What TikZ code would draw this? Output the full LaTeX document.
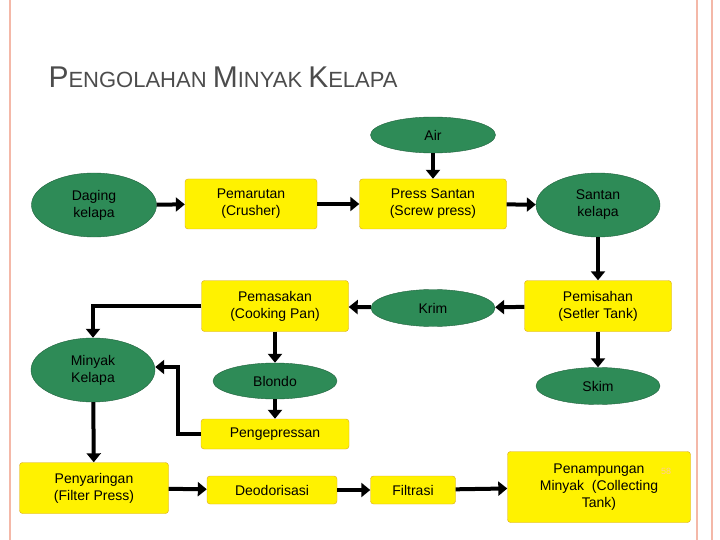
\documentclass[tikz,border=0pt]{standalone}
\usepackage{fontspec}
\setmainfont{Liberation Sans}
\usetikzlibrary{arrows.meta,shapes.geometric}
\definecolor{leaf}{HTML}{2E8B57}
\definecolor{sun}{HTML}{FFF200}
\definecolor{rim}{HTML}{D9A521}
\definecolor{rose}{HTML}{F4B8A8}
\begin{document}
\begin{tikzpicture}[x=1pt,y=-1pt,
  proc/.style={draw=rim,fill=sun,rounded corners=3pt,align=center,font=\fontsize{14}{17}\selectfont,inner sep=2pt},
  prod/.style={draw=leaf!70!black,fill=leaf,ellipse,align=center,font=\fontsize{14}{17}\selectfont,inner sep=1pt},
  arr/.style={-{Triangle[length=9pt,width=14pt]},line width=4pt}
]
\useasboundingbox (0,0) rectangle (720,540);
\draw[rose,line width=1.5pt] (10,0) -- (10,540);
\draw[rose,line width=1.5pt] (697,0) -- (697,540);
\draw[rose,line width=1.5pt] (712,0) -- (712,540);
\node[anchor=base west,text=black!70,font=\fontsize{30}{34}\selectfont] (title) at (45,88)
  {P\fontsize{22}{26}\selectfont ENGOLAHAN \fontsize{30}{34}\selectfont M\fontsize{22}{26}\selectfont INYAK \fontsize{30}{34}\selectfont K\fontsize{22}{26}\selectfont ELAPA};
% nodes
\node[prod,minimum width=125pt,minimum height=36pt] (air) at (433,135) {Air};
\node[prod,minimum width=125pt,minimum height=64pt] (daging) at (94,205) {Daging\\kelapa};
\node[proc,minimum width=132pt,minimum height=50pt] (pemarutan) at (251,204) {Pemarutan\\(Crusher)};
\node[proc,minimum width=147pt,minimum height=50pt] (press) at (433,204) {Press Santan\\(Screw press)};
\node[prod,minimum width=124pt,minimum height=64pt] (santan) at (598,205) {Santan\\kelapa};
\node[proc,minimum width=147pt,minimum height=51pt] (pemasakan) at (275,306) {Pemasakan\\(Cooking Pan)};
\node[prod,minimum width=124pt,minimum height=37pt] (krim) at (433,308) {Krim};
\node[proc,minimum width=147pt,minimum height=51pt] (pemisahan) at (598,306) {Pemisahan\\(Setler Tank)};
\node[prod,minimum width=124pt,minimum height=64pt] (minyak) at (93,370) {Minyak\\Kelapa};
\node[prod,minimum width=124pt,minimum height=36pt] (blondo) at (275,381) {Blondo};
\node[prod,minimum width=124pt,minimum height=37pt] (skim) at (598,386) {Skim};
\node[proc,minimum width=148pt,minimum height=30pt] (pengepressan) at (275,434) {Pengepressan};
\node[proc,minimum width=149pt,minimum height=51pt] (penyaringan) at (94,488) {Penyaringan\\(Filter Press)};
\node[proc,minimum width=130pt,minimum height=28pt] (deodorisasi) at (272,490) {Deodorisasi};
\node[proc,minimum width=85pt,minimum height=28pt] (filtrasi) at (413,490) {Filtrasi};
\node[proc,minimum width=183pt,minimum height=71pt] (penampungan) at (599,487) {Penampungan\\Minyak~~(Collecting\\Tank)};
\node[text=orange!40,font=\fontsize{9}{10}\selectfont] (nomor) at (666,471) {58};
% connectors
\draw[arr] (air) -- (press);
\draw[arr] (daging) -- (pemarutan);
\draw[arr] (pemarutan) -- (press);
\draw[arr] (press) -- (santan);
\draw[arr] (santan) -- (pemisahan);
\draw[arr] (pemisahan) -- (krim);
\draw[arr] (krim) -- (pemasakan);
\draw[arr] (pemasakan.west) -| (minyak.north);
\draw[arr] (pemasakan) -- (blondo);
\draw[arr] (blondo) -- (pengepressan);
\draw[arr] (pengepressan.west) -| (178,367) -- (minyak.east |- 0,367);
\draw[arr] (pemisahan) -- (skim);
\draw[arr] (minyak) -- (penyaringan);
\draw[arr] (penyaringan) -- (deodorisasi);
\draw[arr] (deodorisasi) -- (filtrasi);
\draw[arr] (filtrasi) -- (penampungan);
\end{tikzpicture}
\end{document}
